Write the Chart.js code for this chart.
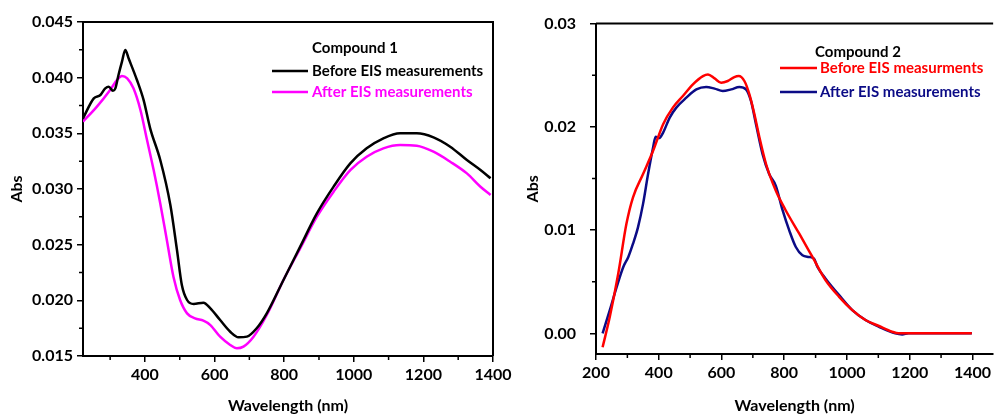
<!DOCTYPE html>
<html>
<head>
<meta charset="utf-8">
<script src="https://cdn.jsdelivr.net/npm/chart.js@4/dist/chart.umd.min.js"></script>
<style>
  html, body { margin: 0; padding: 0; background: #fff; }
  #wrap { position: relative; width: 994px; height: 417px; overflow: hidden; }
  #c1 { position: absolute; left: 0; top: 0; }
  #c2 { position: absolute; left: 500px; top: 0; }
</style>
</head>
<body>
<div id="wrap">
  <canvas id="c2" width="494" height="417"></canvas>
  <canvas id="c1" width="530" height="417"></canvas>
</div>
<script>
// ---------- Compound 1 ----------
const wl1Before = [222,253,272,286,296,308,315,324,334,343.5,353,377,396,415,444,473,492,506,521,540,568,588,616,645,669,693,721,750,798,846,894,942,990,1037,1085,1133,1181,1229,1277,1325,1364,1393];
const abs1Before = [0.03635,0.03814,0.03844,0.03904,0.03919,0.03883,0.03904,0.04024,0.04144,0.04249,0.04174,0.03979,0.03800,0.03545,0.0326,0.02856,0.02452,0.02138,0.02003,0.01967,0.01979,0.01928,0.01823,0.01718,0.01668,0.01674,0.01749,0.01883,0.02183,0.02482,0.02781,0.03021,0.0323,0.03365,0.03455,0.035,0.035,0.03464,0.0338,0.0326,0.0317,0.03096];
const wl1After = [222,262,300,320,334,349,367,387,406,425,444,463,482,501,521,544,568,588,616,645,664,683,712,750,798,846,894,942,990,1037,1085,1133,1181,1229,1277,1325,1364,1393];
const abs1After = [0.03605,0.0374,0.0389,0.0398,0.04015,0.03994,0.03904,0.0371,0.0344,0.0317,0.0287,0.0254,0.0221,0.02003,0.01883,0.01838,0.01817,0.01778,0.01673,0.01599,0.01569,0.01584,0.01673,0.01868,0.02183,0.02467,0.02751,0.02976,0.0317,0.0329,0.03365,0.03395,0.03389,0.03335,0.03245,0.0314,0.0302,0.02946];

// ---------- Compound 2 ----------
const wl2Before = [221,244,271,297,318,350,382,414,445,477,509,541,557,578,599,620,641,655,673,689,705,721,742,773,805,848,890,932,975,1017,1059,1102,1144,1165,1398];
const abs2Before = [-0.00135,0.0016,0.00579,0.01061,0.01318,0.01543,0.01768,0.02026,0.02186,0.02299,0.02412,0.02492,0.02508,0.02469,0.02428,0.02444,0.02482,0.02492,0.02444,0.02315,0.02122,0.01897,0.0164,0.01383,0.0119,0.00965,0.0074,0.00514,0.00354,0.00225,0.00129,0.00071,0.00016,0.0,0.0];
const wl2After = [221,244,266,287,303,318,334,350,366,382,390,401,414,435,456,488,520,551,578,604,631,657,678,694,710,731,752,773,795,816,837,858,879,895,906,932,975,1017,1059,1102,1154,1176,1197,1398];
const abs2After = [0.0,0.00225,0.0045,0.00643,0.0074,0.00868,0.01029,0.01254,0.01543,0.018,0.01904,0.01891,0.01945,0.0209,0.02186,0.02283,0.02363,0.02386,0.0237,0.02347,0.02363,0.02386,0.02363,0.02251,0.02026,0.01736,0.01543,0.01431,0.0119,0.00997,0.00836,0.00756,0.0074,0.00723,0.00643,0.0053,0.0037,0.00225,0.00129,0.00064,0.0,-0.0001,0.0,0.0];

// ---------- ticks ----------
const x1Major = [400,600,800,1000,1200,1400];
const x1Minor = [300,500,700,900,1100,1300];
const y1Major = [0.015,0.020,0.025,0.030,0.035,0.040,0.045];
const y1Minor = [0.0175,0.0225,0.0275,0.0325,0.0375,0.0425];
const x2Major = [200,400,600,800,1000,1200,1400];
const x2Minor = [300,500,700,900,1100,1300];
const y2Major = [0.00,0.01,0.02,0.03];
const y2Minor = [0.005,0.015,0.025];

const legend1 = { title: 'Compound 1', labels: ['Before EIS measurements','After EIS measurements'], colors: ['#000000','#ff00ff'] };
const legend2 = { title: 'Compound 2', labels: ['Before EIS measurments','After EIS measurements'], colors: ['#ff0000','#0b0b86'] };

const FONT = 'Lato, "Open Sans", sans-serif';

function pts(xs, ys) { return xs.map((x, i) => ({ x: x, y: ys[i] })); }

const framePlugin = {
  id: 'frame',
  afterDraw(chart, args, o) {
    const ctx = chart.ctx, a = chart.chartArea, sx = chart.scales.x, sy = chart.scales.y;
    ctx.save();
    ctx.strokeStyle = '#000';
    ctx.lineWidth = 2;
    ctx.beginPath();
    ctx.moveTo(a.left, a.top);
    ctx.lineTo(a.right, a.top);
    if (o.rightBorder) ctx.lineTo(a.right, a.bottom);
    ctx.stroke();
    ctx.lineWidth = 1.5;
    ctx.beginPath();
    o.xMinor.forEach(v => { const p = sx.getPixelForValue(v); ctx.moveTo(p, a.bottom); ctx.lineTo(p, a.bottom + 4); });
    o.yMinor.forEach(v => { const p = sy.getPixelForValue(v); ctx.moveTo(a.left, p); ctx.lineTo(a.left - 4, p); });
    ctx.stroke();
    // legend
    const L = o.legend;
    ctx.font = 'bold 15px ' + FONT;
    ctx.textBaseline = 'middle';
    ctx.textAlign = 'left';
    ctx.fillStyle = '#000';
    ctx.fillText(L.title, o.lg.titleX, o.lg.titleY);
    L.labels.forEach((t, i) => {
      const y = o.lg.rowY[i];
      ctx.strokeStyle = L.colors[i];
      ctx.lineWidth = 2.5;
      ctx.beginPath(); ctx.moveTo(o.lg.lineX0, y); ctx.lineTo(o.lg.lineX1, y); ctx.stroke();
      ctx.fillStyle = L.colors[i];
      ctx.fillText(t, o.lg.textX, y);
    });
    ctx.restore();
  }
};

function makeChart(id, cfg) {
  const ds = cfg.series.map(s => ({
    data: pts(s.x, s.y), borderColor: s.color, borderWidth: 2.5, pointRadius: 0,
    tension: 0.35, cubicInterpolationMode: 'monotone', fill: false
  }));
  return new Chart(document.getElementById(id), {
    type: 'line',
    data: { datasets: ds },
    plugins: [framePlugin],
    options: {
      responsive: false, animation: false,
      layout: { padding: cfg.padding },
      plugins: {
        legend: { display: false }, tooltip: { enabled: false },
        frame: { rightBorder: cfg.rightBorder, xMinor: cfg.xMinor, yMinor: cfg.yMinor, legend: cfg.legend, lg: cfg.lg }
      },
      scales: {
        x: {
          type: 'linear', min: cfg.xMin, max: cfg.xMax,
          afterBuildTicks: s => { s.ticks = cfg.xMajor.map(v => ({ value: v })); },
          afterFit: s => { s.height = cfg.xAxisH; },
          grid: { drawOnChartArea: false, drawTicks: true, tickLength: 6, color: '#000', lineWidth: 1.5 },
          border: { display: true, color: '#000', width: 2 },
          ticks: { color: '#000', font: { family: FONT, size: 16, weight: 'bold' }, padding: cfg.xTickPad, maxRotation: 0, autoSkip: false, callback: v => String(v) },
          title: { display: true, text: 'Wavelength (nm)', color: '#000', font: { family: FONT, size: 16, weight: 'bold' }, padding: { top: 0, bottom: 2 } }
        },
        y: {
          type: 'linear', min: cfg.yMin, max: cfg.yMax,
          afterBuildTicks: s => { s.ticks = cfg.yMajor.map(v => ({ value: v })); },
          afterFit: s => { s.width = cfg.yAxisW; },
          grid: { drawOnChartArea: false, drawTicks: true, tickLength: 6, color: '#000', lineWidth: 1.5 },
          border: { display: true, color: '#000', width: 2 },
          ticks: { color: '#000', font: { family: FONT, size: 16, weight: 'bold' }, padding: cfg.yTickPad, autoSkip: false, callback: v => v.toFixed(cfg.yDec) },
          title: { display: true, text: 'Abs', color: '#000', font: { family: FONT, size: 16, weight: 'bold' }, padding: { top: cfg.yTitlePad, bottom: 0 } }
        }
      }
    }
  });
}

makeChart('c1', {
  series: [ { x: wl1Before, y: abs1Before, color: '#000000' }, { x: wl1After, y: abs1After, color: '#ff00ff' } ],
  xMin: 222, xMax: 1400, yMin: 0.015, yMax: 0.045,
  xMajor: x1Major, xMinor: x1Minor, yMajor: y1Major, yMinor: y1Minor, yDec: 3,
  padding: { left: 0, right: 37, top: 22, bottom: 0 },
  xAxisH: 61, yAxisW: 83, xTickPad: 3, yTickPad: 4, yTitlePad: 7,
  rightBorder: true, legend: legend1,
  lg: { titleX: 312, titleY: 48, rowY: [71, 92], lineX0: 272, lineX1: 308, textX: 312 }
});

makeChart('c2', {
  series: [ { x: wl2Before, y: abs2Before, color: '#ff0000' }, { x: wl2After, y: abs2After, color: '#0b0b86' } ],
  xMin: 200, xMax: 1466, yMin: -0.002, yMax: 0.03,
  xMajor: x2Major, xMinor: x2Minor, yMajor: y2Major, yMinor: y2Minor, yDec: 2,
  padding: { left: 0, right: 0, top: 22, bottom: 0 },
  xAxisH: 63, yAxisW: 96, xTickPad: 3, yTickPad: 14, yTitlePad: 23,
  rightBorder: false, legend: legend2,
  lg: { titleX: 315, titleY: 52, rowY: [68, 92], lineX0: 280, lineX1: 317, textX: 320 }
});
</script>
</body>
</html>
